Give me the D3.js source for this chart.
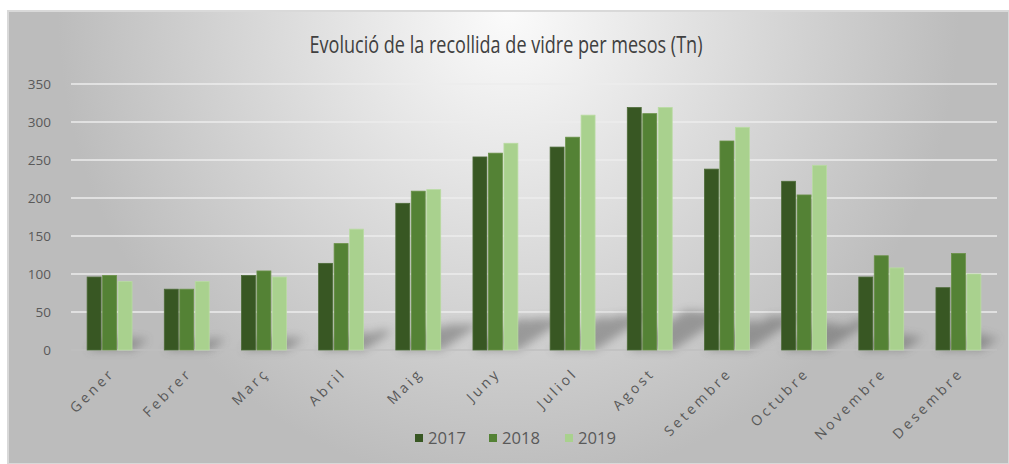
<!DOCTYPE html>
<html>
<head>
<meta charset="utf-8">
<script src="https://cdn.jsdelivr.net/npm/d3@7"></script>
<style>
  body { margin: 0; background: #fff; }
  text { font-family: "Open Sans", "DejaVu Sans", sans-serif; }
</style>
</head>
<body>
<svg id="chart"></svg>
<script>
let months = ["Gener", "Febrer", "Març", "Abril", "Maig", "Juny", "Juliol", "Agost", "Setembre", "Octubre", "Novembre", "Desembre"];
let years = ["2017", "2018", "2019"];
let values2017 = [96, 80, 98, 114, 193, 254, 267, 319, 238, 222, 96, 82];
let values2018 = [98, 80, 104, 140, 209, 259, 280, 311, 275, 204, 124, 127];
let values2019 = [90, 90, 96, 159, 211, 272, 309, 319, 293, 243, 108, 100];
let yTicks = [0, 50, 100, 150, 200, 250, 300, 350];
let colors = ["#385723", "#548235", "#a9d18e"];
let strokes = ["#4d6b38", "#6a9148", "#b9dba2"];

let width = 1009;
let height = 464;
let svg = d3.select("#chart").attr("width", width).attr("height", height);

let margin = { top: 84, right: 12, bottom: 114, left: 71 };

// background gradient
let defs = svg.append("defs");
let grad = defs
  .append("radialGradient")
  .attr("id", "bg")
  .attr("cx", "50%")
  .attr("cy", "0%")
  .attr("r", "75%")
  .attr("gradientTransform", "translate(0.5,0) scale(0.6,1.4) translate(-0.5,0)");
grad.append("stop").attr("offset", "0%").attr("stop-color", "#fbfbfb");
grad.append("stop").attr("offset", "100%").attr("stop-color", "#bcbcbc");

let blur = defs.append("filter").attr("id", "blur").attr("x", "-50%").attr("y", "-50%").attr("width", "200%").attr("height", "200%");
blur.append("feGaussianBlur").attr("stdDeviation", 5);

svg
  .append("rect")
  .attr("x", 8)
  .attr("y", 11)
  .attr("width", width - 8)
  .attr("height", height - 11)
  .attr("fill", "url(#bg)")
  .attr("stroke", "#d9d9d9")
  .attr("stroke-width", 2);

let x0 = d3
  .scaleBand()
  .domain(months)
  .range([margin.left, width - margin.right])
  .paddingInner(0.378)
  .paddingOuter(0.189);

let x1 = d3.scaleBand().domain(years).range([0, x0.bandwidth()]).padding(0.1);

let y = d3
  .scaleLinear()
  .domain([0, 350])
  .range([height - margin.bottom, margin.top]);

// gridlines
svg
  .append("g")
  .selectAll("line")
  .data(yTicks.slice(1))
  .enter()
  .append("line")
  .attr("x1", margin.left)
  .attr("x2", width - margin.right)
  .attr("y1", function (d) { return y(d); })
  .attr("y2", function (d) { return y(d); })
  .attr("stroke", "#ececec")
  .attr("stroke-width", 1.5);

// y tick labels
svg
  .append("g")
  .selectAll("text")
  .data(yTicks)
  .enter()
  .append("text")
  .attr("x", 51)
  .attr("y", function (d) { return y(d); })
  .attr("dy", "0.35em")
  .attr("text-anchor", "end")
  .style("font-size", "13.5px")
  .style("fill", "#595959")
  .text(function (d) { return d; });

let rows = months.map(function (m, i) {
  return { month: m, vals: [values2017[i], values2018[i], values2019[i]] };
});

// shadows behind bars
let shadow = svg.append("g").attr("filter", "url(#blur)").attr("opacity", 0.45);
rows.forEach(function (r) {
  r.vals.forEach(function (v, j) {
    let bx = x0(r.month) + x1(years[j]);
    let bw = x1.bandwidth();
    let h = y(0) - y(v);
    let dy = Math.min(h * 0.16, 42);
    let dx = dy * 1.5;
    let b = y(0);
    shadow
      .append("path")
      .attr("d", "M" + bx + "," + b + "L" + (bx + bw) + "," + b + "L" + (bx + bw + dx) + "," + (b - dy) + "L" + (bx + dx) + "," + (b - dy) + "Z")
      .attr("fill", "#4a4a4a");
  });
});

// baseline
svg
  .append("line")
  .attr("x1", margin.left)
  .attr("x2", width - margin.right)
  .attr("y1", y(0))
  .attr("y2", y(0))
  .attr("stroke", "#bfbfbf")
  .attr("stroke-width", 1.5);

// bars
let groups = svg
  .append("g")
  .selectAll("g")
  .data(rows)
  .enter()
  .append("g")
  .attr("transform", function (d) { return "translate(" + x0(d.month) + ",0)"; });

groups
  .selectAll("rect")
  .data(function (d) { return d.vals; })
  .enter()
  .append("rect")
  .attr("x", function (d, j) { return x1(years[j]); })
  .attr("y", function (d) { return y(d); })
  .attr("width", x1.bandwidth())
  .attr("height", function (d) { return y(0) - y(d); })
  .attr("fill", function (d, j) { return colors[j]; })
  .attr("stroke", function (d, j) { return strokes[j]; })
  .attr("stroke-width", 0.8);

// x labels rotated
svg
  .append("g")
  .selectAll("text")
  .data(months)
  .enter()
  .append("text")
  .attr("transform", function (d) {
    return "translate(" + (x0(d) + x0.bandwidth() / 2 + 6) + "," + (y(0) + 24) + ") rotate(-45)";
  })
  .attr("text-anchor", "end")
  .style("font-size", "14px")
  .style("letter-spacing", "3.2px")
  .style("fill", "#595959")
  .text(function (d) { return d; });

// title
svg
  .append("text")
  .attr("x", 506)
  .attr("y", 53)
  .attr("text-anchor", "middle")
  .attr("textLength", 393)
  .attr("lengthAdjust", "spacingAndGlyphs")
  .style("font-size", "23px")
  .style("fill", "#404040")
  .text("Evolució de la recollida de vidre per mesos (Tn)");

// legend
let legend = svg.append("g").attr("transform", "translate(415,438)");
let legendX = [0, 74, 150];
years.forEach(function (yr, j) {
  legend
    .append("rect")
    .attr("x", legendX[j])
    .attr("y", -4)
    .attr("width", 8)
    .attr("height", 8)
    .attr("fill", colors[j]);
  legend
    .append("text")
    .attr("x", legendX[j] + 13)
    .attr("y", 0)
    .attr("dy", "0.36em")
    .attr("textLength", 38)
    .attr("lengthAdjust", "spacingAndGlyphs")
    .style("font-size", "16px")
    .style("fill", "#595959")
    .text(yr);
});
</script>
</body>
</html>
